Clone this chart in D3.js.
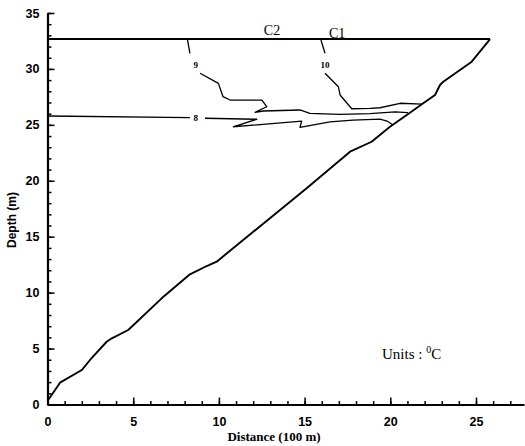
<!DOCTYPE html>
<html><head><meta charset="utf-8">
<script src="https://cdn.jsdelivr.net/npm/d3@7"></script>
<style>body{margin:0;background:#fff}svg{display:block}</style>
</head><body>
<svg id="c" width="525" height="446"></svg>
<script>
// ---- data (distance in 100 m, depth in m) ----
const xMajorTicks = [0,5,10,15,20,25];
const yMajorTicks = [0,5,10,15,20,25,30,35];
const bathymetry = [[0.02,0.35],[0.73,1.95],[2.0,3.08],[2.48,3.98],[3.45,5.61],[3.75,5.92],[4.71,6.66],[6.66,9.49],[8.31,11.64],[9.29,12.38],[9.87,12.77],[15.12,19.33],[17.65,22.6],[18.91,23.49],[19.98,24.83],[20.96,25.88],[21.92,26.93],[22.61,27.67],[22.9,28.56],[23.09,28.86],[24.75,30.65],[25.82,32.67]];
const surface = [[0,32.67],[25.82,32.67]];
const c9Upper = [[8.16,32.67],[8.31,31.4]];
const c9Lower = [[8.9,29.61],[9.97,28.71],[10.24,27.52],[10.65,27.22],[12.51,27.22],[12.79,26.62],[12.11,26.12],[12.59,26.24],[14.73,26.33],[15.31,26.03],[17.06,25.93],[18.81,26.0],[20.28,26.16],[21.03,26.1]];
const c10Upper = [[15.94,32.67],[16.19,31.4]];
const c10Lower = [[16.19,29.61],[16.97,28.41],[17.07,27.67],[17.75,26.44],[18.82,26.48],[19.4,26.53],[20.57,26.93],[21.85,26.86]];
const c8Left = [[0,25.79],[8.31,25.64]];
const c8Right = [[9.19,25.59],[12.21,25.5],[10.84,24.83],[14.83,25.34],[14.73,24.78],[16.48,25.26],[17.82,25.43],[19.4,25.52],[19.81,25.34],[20.16,24.99]];
const contourLabels = [{t:"9",x:8.65,y:30.35},{t:"10",x:16.19,y:30.35},{t:"8",x:8.65,y:25.6}];
const transectLabels = [{t:"C2",x:13.1,y:33.0},{t:"C1",x:16.9,y:32.8}];

const svg = d3.select("#c");
const x = d3.scaleLinear().domain([0,27.8]).range([47.5,524]);
const y = d3.scaleLinear().domain([0,35]).range([404.5,13]);

// axes
const gx = svg.append("g").attr("transform",`translate(0,${y(0)})`);
gx.call(d3.axisBottom(x).tickValues(d3.range(0,28,1)).tickSizeInner(-3.5).tickSizeOuter(0).tickFormat(""));
gx.call(g=>g.select(".domain").remove());
const gx2 = svg.append("g").attr("transform",`translate(0,${y(0)})`);
gx2.call(d3.axisBottom(x).tickValues(xMajorTicks).tickSizeInner(-7).tickSizeOuter(0).tickPadding(13).tickFormat(d3.format("d")));
gx2.select(".domain").attr("stroke-width",2.2);
gx2.selectAll("text").attr("font-family","Liberation Sans, Arial, sans-serif").attr("font-weight","bold").attr("font-size",12.5).attr("fill","#000");

const gy = svg.append("g").attr("transform",`translate(${x(0)},0)`);
gy.call(d3.axisLeft(y).tickValues(d3.range(0,36,1)).tickSizeInner(-4).tickSizeOuter(0).tickFormat(""));
gy.call(g=>g.select(".domain").remove());
const gy2 = svg.append("g").attr("transform",`translate(${x(0)},0)`);
gy2.call(d3.axisLeft(y).tickValues(yMajorTicks).tickSizeInner(-7).tickSizeOuter(0).tickPadding(8).tickFormat(d3.format("d")));
gy2.select(".domain").attr("stroke-width",2.2);
gy2.selectAll("text").attr("font-family","Liberation Sans, Arial, sans-serif").attr("font-weight","bold").attr("font-size",12.5).attr("fill","#000");
svg.selectAll(".tick line").attr("stroke-width",1.5);

// lines
const line = d3.line().x(d=>x(d[0])).y(d=>y(d[1]));
[bathymetry].forEach(d=>svg.append("path").attr("d",line(d)).attr("fill","none").attr("stroke","#000").attr("stroke-width",1.9).attr("stroke-linejoin","round"));
[surface].forEach(d=>svg.append("path").attr("d",line(d)).attr("fill","none").attr("stroke","#000").attr("stroke-width",1.9));
[c9Upper,c9Lower,c10Upper,c10Lower,c8Left,c8Right].forEach(d=>svg.append("path").attr("d",line(d)).attr("fill","none").attr("stroke","#000").attr("stroke-width",1.3).attr("stroke-linejoin","round"));

svg.selectAll(".cl").data(contourLabels).enter().append("text")
  .attr("x",d=>x(d.x)).attr("y",d=>y(d.y)+3).attr("text-anchor","middle")
  .attr("font-family","Liberation Serif, Times New Roman, serif").attr("font-size",9).attr("font-weight","bold").text(d=>d.t);
svg.selectAll(".tl").data(transectLabels).enter().append("text")
  .attr("x",d=>x(d.x)).attr("y",d=>y(d.y)).attr("text-anchor","middle")
  .attr("font-family","Liberation Serif, Times New Roman, serif").attr("font-size",14).text(d=>d.t);

// titles
svg.append("text").attr("x",274).attr("y",441).attr("text-anchor","middle")
  .attr("font-family","Liberation Serif, Times New Roman, serif").attr("font-weight","bold").attr("font-size",13).text("Distance (100 m)");
svg.append("text").attr("transform","translate(16,220) rotate(-90)").attr("text-anchor","middle")
  .attr("font-family","Liberation Sans, Arial, sans-serif").attr("font-weight","bold").attr("font-size",12).text("Depth (m)");
const u = svg.append("text").attr("x",382).attr("y",359)
  .attr("font-family","Liberation Serif, Times New Roman, serif").attr("font-size",15);
u.append("tspan").text("Units : ");
u.append("tspan").attr("font-size",10).attr("dy",-6).text("0");
u.append("tspan").attr("dy",6).text("C");
</script>
</body></html>
